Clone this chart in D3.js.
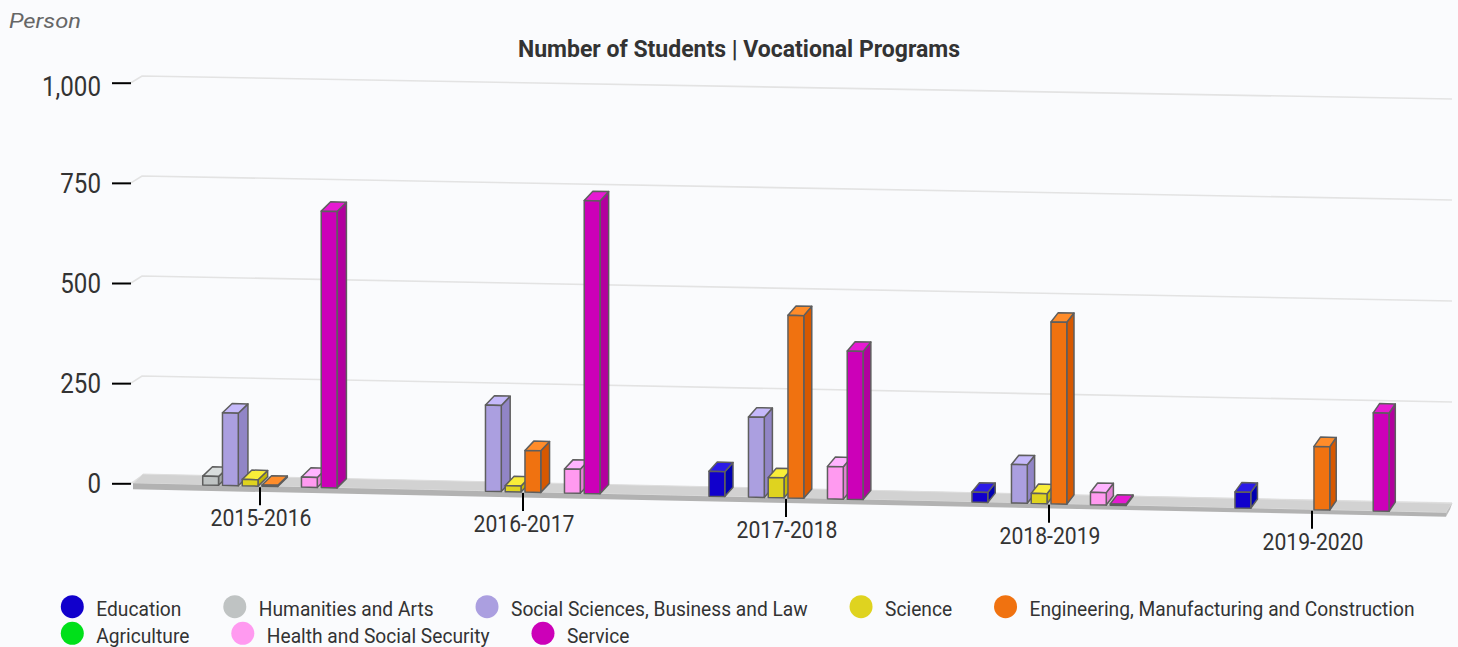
<!DOCTYPE html>
<html><head><meta charset="utf-8">
<script src="https://cdn.jsdelivr.net/npm/d3@7"></script>
<style>
html,body{margin:0;padding:0;background:#fafbfd;}
svg{display:block;font-family:Roboto, "Noto Sans", sans-serif;}
</style></head><body>
<svg id="chart" width="1458" height="647"></svg>
<script>
// ---------- data ----------
const categories = ["2015-2016","2016-2017","2017-2018","2018-2019","2019-2020"];
const seriesNames = ["Education","Humanities and Arts","Social Sciences, Business and Law","Science",
  "Engineering, Manufacturing and Construction","Agriculture","Health and Social Security","Service"];
const seriesColors = ["#1100cc","#bfc3c3","#ab9fe0","#dfd31f","#f07210","#00e01a","#ff9af0","#cc00b8"];
const education      = [null, null, 62, 25, 40];
const humanities     = [22, null, null, null, null];
const socialSciences = [181, 215, 200, 96, null];
const science        = [16, 15, 50, 25, null];
const engineering    = [3, 104, 456, 454, 158];
const agriculture    = [null, null, null, null, null];
const health         = [25, 60, 81, 31, null];
const service        = [690, 731, 370, 3, 245];
const yTicks = [0, 250, 500, 750, 1000];
const yAxisTitle = "Person";
const chartTitle = "Number of Students | Vocational Programs";

const seriesValues = [education, humanities, socialSciences, science, engineering, agriculture, health, service];

// ---------- scales / projection ----------
const svg = d3.select("#chart");
const x0 = d3.scaleBand().domain(categories).range([128.5, 1443.5]);
const x1 = d3.scaleBand().domain(seriesNames).range([-79, 79]).paddingInner(0.2).paddingOuter(0.1);
const y = d3.scaleLinear().domain([0, 1000]).range([483.3, 82.7]);
const slope = 0.0223;                       // front plane tilt
const front = (x, v) => y(v) + slope * (x - 131);
const depthX = d3.scaleLinear().domain([230, 1380]).range([9.7, 6.3]);
const depthY = -9.3;
const P = (x, v, z) => [x + z * depthX(x), front(x, v) + z * depthY];
const gridLeft = d3.scaleLinear().domain([0, 1000]).range([476, 76]);
const gridRight = d3.scaleLinear().domain([0, 1000]).range([503, 99]);

function shade(c, d) {
  const r = d3.rgb(c);
  return d3.rgb(Math.max(0, Math.min(255, r.r + d)), Math.max(0, Math.min(255, r.g + d)), Math.max(0, Math.min(255, r.b + d))).formatHex();
}
function condense(sel, target, refNode) {
  const L = refNode.getComputedTextLength();
  const ratio = target / L;
  sel.each(function () {
    const l = this.getComputedTextLength();
    this.setAttribute("textLength", (l * ratio).toFixed(2));
    this.setAttribute("lengthAdjust", "spacingAndGlyphs");
  });
}

// ---------- gridlines (back wall) ----------
const grid = svg.append("g").attr("fill", "none").attr("stroke", "#e3e3e3").attr("stroke-width", 1.6);
yTicks.forEach(t => {
  grid.append("path").attr("d", d3.line()([[131, y(t)], [142, gridLeft(t)], [1452, gridRight(t)]]));
});

// ---------- floor ----------
const fx0 = 133, fx1 = 1446, thick = 6;
const floor = svg.append("g");
floor.append("path")
  .attr("d", d3.line()([P(fx0, 0, 0), P(fx1, 0, 0), P(fx1, 0, 1), P(fx0, 0, 1)]) + "Z")
  .attr("fill", "#d2d2d2").attr("stroke", "#dedede").attr("stroke-width", 1);
floor.append("path")
  .attr("d", d3.line()([P(fx0, 0, 0), P(fx1, 0, 0), [fx1, front(fx1, 0) + thick - 2], [fx0, front(fx0, 0) + thick]]) + "Z")
  .attr("fill", "#b2b2b2");
floor.append("path")
  .attr("d", d3.line()([P(fx1, 0, 0), P(fx1, 0, 1), [P(fx1, 0, 1)[0] - 2, P(fx1, 0, 1)[1] + thick], [fx1, front(fx1, 0) + thick - 2]]) + "Z")
  .attr("fill", "#bdbdbd");

// ---------- y axis ----------
const yAxis = svg.append("g").attr("transform", "translate(131,0)")
  .call(d3.axisLeft(y).tickValues(yTicks).tickSize(19).tickPadding(11).tickFormat(d3.format(",")));
yAxis.select(".domain").remove();
yAxis.selectAll(".tick line").attr("stroke", "#000").attr("stroke-width", 2);
yAxis.selectAll(".tick text").attr("font-size", 28).attr("fill", "#333").attr("font-family", "Roboto")
  .attr("dy", d => d === 1000 ? "0.46em" : "0.34em");
condense(yAxis.selectAll(".tick text"), 59, yAxis.selectAll(".tick text").filter(d => d === 1000).node());

// ---------- category ticks and labels ----------
const xAxis = svg.append("g");
categories.forEach(c => {
  const cx = x0(c) + x0.bandwidth() / 2;
  const b = front(cx, 0);
  xAxis.append("line").attr("x1", cx).attr("x2", cx).attr("y1", b + 1).attr("y2", b + 19)
    .attr("stroke", "#000").attr("stroke-width", 2);
  xAxis.append("text").attr("x", cx + 1).attr("y", b + 40).attr("text-anchor", "middle")
    .attr("font-size", 24).attr("fill", "#333").text(c);
});
condense(xAxis.selectAll("text"), 101, xAxis.select("text").node());

// ---------- bars ----------
const bars = svg.append("g").attr("stroke", "#5e5e5e").attr("stroke-width", 1.5).attr("stroke-linejoin", "round");
categories.forEach((c, ci) => {
  const cx = x0(c) + x0.bandwidth() / 2;
  seriesNames.forEach((s, si) => {
    const v = seriesValues[si][ci];
    if (v === null || v === undefined) return;
    const xl = cx + x1(s), xr = xl + x1.bandwidth();
    const col = seriesColors[si];
    const g = bars.append("g");
    g.append("path").attr("d", d3.line()([P(xr, 0, 0), P(xr, 0, 1), P(xr, v, 1), P(xr, v, 0)]) + "Z").attr("fill", shade(col, -26));
    g.append("path").attr("d", d3.line()([P(xl, v, 0), P(xr, v, 0), P(xr, v, 1), P(xl, v, 1)]) + "Z").attr("fill", shade(col, 26));
    g.append("path").attr("d", d3.line()([P(xl, 0, 0), P(xr, 0, 0), P(xr, v, 0), P(xl, v, 0)]) + "Z").attr("fill", col);
  });
});

// ---------- titles ----------
const t = svg.append("text").attr("x", 739).attr("y", 56.7).attr("text-anchor", "middle")
  .attr("font-size", 23).attr("font-weight", "bold").attr("fill", "#333").text(chartTitle);
condense(t, 442, t.node());
const p = svg.append("text").attr("x", 9).attr("y", 28).attr("font-size", 21).attr("font-style", "italic")
  .attr("fill", "#666").text(yAxisTitle);
condense(p, 72, p.node());

// ---------- legend ----------
const legend = svg.append("g");
const items = seriesNames.map((s, i) => {
  const g = legend.append("g");
  g.append("circle").attr("r", 11.5).attr("fill", seriesColors[i]);
  g.append("text").attr("x", 24).attr("y", 9.5).attr("font-size", 21).attr("fill", "#333").text(s);
  return g;
});
condense(legend.selectAll("text"), 385, legend.selectAll("text").filter((d, i) => i === 4).node());
let lx = 72.3, ly = 606.7;
items.forEach(g => {
  const w = 24 + g.select("text").node().getComputedTextLength();
  if (lx + w > 1445) { lx = 72.3; ly += 26.6; }
  g.attr("transform", `translate(${lx},${ly})`);
  lx += w + 53.4;
});
</script>
</body></html>
